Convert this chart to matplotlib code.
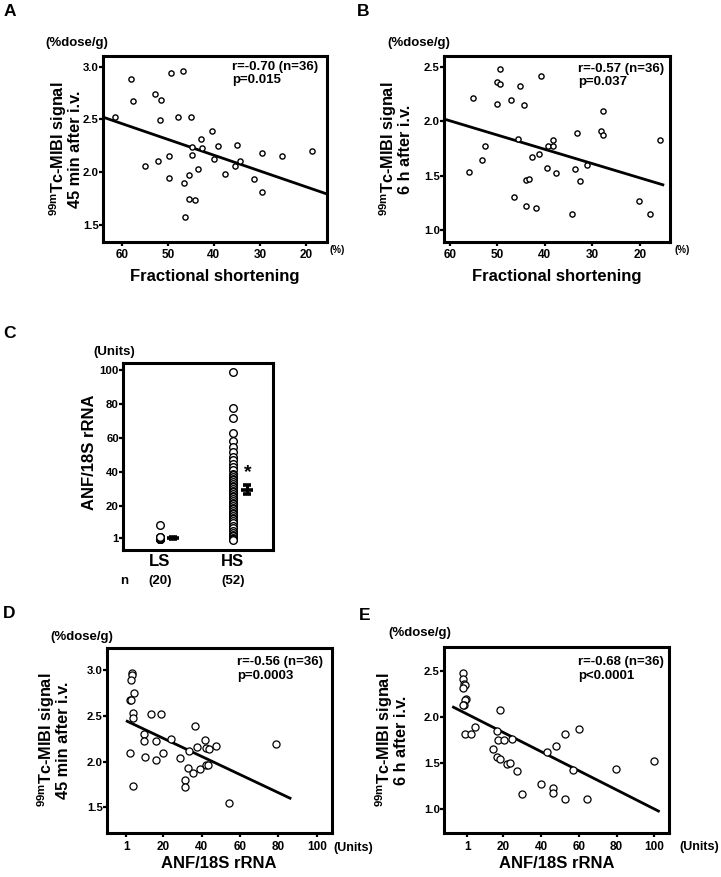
import numpy as np
import matplotlib
matplotlib.use("Agg")
import matplotlib.pyplot as plt

plt.rcParams['font.family'] = ['Liberation Sans', 'DejaVu Sans']
plt.rcParams['font.weight'] = 'bold'
plt.rcParams['mathtext.fontset'] = 'custom'
plt.rcParams['mathtext.rm'] = 'Liberation Sans:bold'
plt.rcParams['mathtext.it'] = 'Liberation Sans:bold'
plt.rcParams['mathtext.bf'] = 'Liberation Sans:bold'

# --- A: fractional shortening vs MIBI 45 min
fs_a = [61.4, 58.1, 57.6, 52.9, 51.5, 51.6, 49.4, 46.8, 47.9, 44.9, 54.9, 52.2,
        49.7, 49.7, 46.5, 45.3, 44.8, 44.8, 42.9, 42.6, 43.5, 45.4, 44.0, 46.2,
        40.5, 39.9, 39.1, 37.5, 35.0, 35.5, 34.4, 31.2, 29.6, 29.6, 25.2, 18.7]
mibi45_a = [2.52, 2.88, 2.67, 2.74, 2.68, 2.49, 2.94, 2.96, 2.52, 2.52, 2.06, 2.11,
            2.15, 1.95, 1.90, 1.97, 2.24, 2.16, 2.31, 2.23, 2.03, 1.75, 1.74, 1.58,
            2.39, 2.13, 2.25, 1.98, 2.26, 2.06, 2.11, 1.94, 2.18, 1.81, 2.15, 2.20]
fit_a = (1.564, 0.01494, 64.0, 15.4)   # intercept, slope, x from, x to

# --- B: fractional shortening vs MIBI 6 h
fs_b = [55.9, 55.2, 53.3, 52.6, 50.1, 49.5, 49.5, 50.0, 47.2, 45.2, 44.4, 46.4,
        45.7, 43.9, 43.4, 42.6, 41.3, 43.9, 41.8, 40.8, 39.6, 39.3, 38.3, 38.3,
        37.7, 34.2, 33.6, 33.2, 32.6, 31.1, 28.3, 27.7, 27.7, 20.3, 18.0, 15.8]
mibi6_b = [1.53, 2.21, 1.64, 1.77, 2.36, 2.34, 2.48, 2.16, 2.20, 2.32, 2.15, 1.30,
           1.84, 1.46, 1.47, 1.67, 1.70, 1.22, 1.20, 2.42, 1.57, 1.77, 1.83, 1.77,
           1.52, 1.15, 1.56, 1.89, 1.45, 1.60, 1.91, 1.87, 2.09, 1.27, 1.15, 1.83]
fit_b = (1.216, 0.01315, 60.6, 15.2)

# --- C: ANF/18S rRNA, LS vs HS
grupos = ['LS', 'HS']
n_grupos = ['(20)', '(52)']
anf_ls = [0.3, 0.4, 0.5, 0.6, 0.7, 0.8, 0.8, 0.9, 0.9, 1.0,
          1.0, 1.0, 1.1, 1.1, 1.2, 1.2, 1.3, 1.4, 1.6, 8.7]
anf_hs = [99, 78, 72, 63, 58, 55, 52, 49, 47, 45, 43, 41, 39, 38, 37, 36, 35, 34,
          33, 32, 31, 30, 29, 28, 27, 26, 25, 24, 23, 22, 21, 20, 19, 18, 17, 16,
          15, 14, 13, 12, 11, 10, 8, 7, 5, 4, 3, 2, 1, 0.5, 0.3, 0.1]
media_c = [1.0, 29.5]
sem_c = [0.4, 2.7]

# --- D: ANF vs MIBI 45 min
anf_d = [4.0, 4.0, 3.5, 4.8, 3.1, 3.4, 4.3, 4.3, 2.9, 4.3, 10.0, 10.0, 10.4, 13.8,
         19.0, 16.4, 16.4, 19.9, 24.0, 28.9, 36.4, 33.5, 32.8, 31.6, 31.6, 35.4,
         39.2, 37.8, 41.8, 42.5, 44.0, 47.7, 42.5, 43.5, 54.2, 78.8]
mibi45_d = [2.97, 2.95, 2.89, 2.75, 2.67, 2.67, 2.53, 2.48, 2.09, 1.73, 2.30, 2.23,
            2.05, 2.52, 2.52, 2.23, 2.02, 2.09, 2.25, 2.04, 2.39, 2.11, 1.93, 1.80,
            1.72, 1.88, 1.92, 2.16, 2.24, 2.15, 2.14, 2.17, 1.96, 1.96, 1.55, 2.19]
fit_d = (2.454, -0.00993, 1.4, 86.0)

# --- E: ANF vs MIBI 6 h
anf_e = [-1.2, -1.2, -0.6, -0.3, -1.2, 0.4, -0.1, -0.6, -1.2, -0.1, 2.7, 4.9,
         18.4, 16.5, 17.0, 20.4, 24.4, 14.7, 16.5, 18.4, 22.2, 23.6, 27.1, 29.7,
         39.8, 46.1, 46.1, 52.5, 43.0, 47.7, 52.5, 60.1, 56.7, 64.3, 79.6, 99.9]
mibi6_e = [2.48, 2.41, 2.36, 2.35, 2.31, 2.20, 2.18, 2.13, 2.13, 1.81, 1.81, 1.89,
           2.08, 1.85, 1.75, 1.75, 1.76, 1.65, 1.56, 1.54, 1.49, 1.50, 1.41, 1.16,
           1.27, 1.23, 1.17, 1.11, 1.62, 1.68, 1.81, 1.87, 1.42, 1.11, 1.44, 1.52]
fit_e = (2.040, -0.01039, -6.4, 102.2)

W, H = 721, 877
fig = plt.figure(figsize=(W / 100, H / 100), dpi=100)


def ejes(left, top, right, bottom):
    ax = fig.add_axes([left / W, 1 - bottom / H, (right - left) / W, (bottom - top) / H])
    for s in ax.spines.values():
        s.set_linewidth(2.2)
    ax.tick_params(direction='out', length=2.6, width=1.6, labelsize=8.5)
    ax.tick_params(axis='x', pad=2.8)
    ax.tick_params(axis='y', pad=0.3, labelsize=8.2)
    return ax


def texto(x, y, s, **kw):
    fig.text(x / W, 1 - y / H, s, **kw)


def dispersion(ax, x, y, fit, size, lw, nota):
    ax.scatter(x, y, s=size, facecolors='white', edgecolors='black', linewidths=lw, zorder=3)
    a, b, x0, x1 = fit
    xs = np.array([x0, x1])
    ax.plot(xs, a + b * xs, color='black', lw=2, zorder=2)
    ax.text(nota[0], nota[1], nota[2], transform=ax.transAxes, ha='left', va='top',
            fontsize=9.5, linespacing=1.15)


def ylabel2(x1, x2, y, linea1, linea2):
    texto(x1, y, linea1, rotation=90, ha='center', va='center', fontsize=11.7)
    texto(x2, y, linea2, rotation=90, ha='center', va='center', fontsize=11.7)


tc = '$^{99m}$Tc-MIBI signal'

# A
ax = ejes(103, 56, 327, 242)
dispersion(ax, fs_a, mibi45_a, fit_a, 14, 1.0, (0.575, 0.975, 'r=-0.70 (n=36)\np=0.015'))
ax.set_xlim(64.1, 15.4)
ax.set_ylim(1.34, 3.10)
ax.set_xticks([60, 50, 40, 30, 20])
ax.set_yticks([1.5, 2.0, 2.5, 3.0])
ax.set_yticklabels(['1.5', '2.0', '2.5', '3.0'])

# B
ax = ejes(444, 56, 670, 242)
dispersion(ax, fs_b, mibi6_b, fit_b, 14, 1.0, (0.594, 0.965, 'r=-0.57 (n=36)\np=0.037'))
ax.set_xlim(61.2, 13.7)
ax.set_ylim(0.89, 2.60)
ax.set_xticks([60, 50, 40, 30, 20])
ax.set_yticks([1.0, 1.5, 2.0, 2.5])
ax.set_yticklabels(['1.0', '1.5', '2.0', '2.5'])

# C
ax = ejes(123, 363, 273, 550)
ax.scatter(np.zeros(len(anf_ls)), anf_ls, s=30, facecolors='white', edgecolors='black',
           linewidths=1.0, zorder=3)
ax.scatter(np.ones(len(anf_hs)), anf_hs, s=30, facecolors='white', edgecolors='black',
           linewidths=1.0, zorder=3)
ax.errorbar([0.18, 1.2], media_c, yerr=sem_c, fmt='_', color='black', markersize=8,
            mew=2.6, capsize=2.8, capthick=2.2, elinewidth=2.2, zorder=4)
ax.text(1.2, media_c[1] + 10, '*', ha='center', va='center', fontsize=14)
ax.set_xlim(-0.5, 1.55)
ax.set_ylim(-6, 104.3)
ax.set_yticks([1, 20, 40, 60, 80, 100])
ax.set_xticks([0, 1])
ax.set_xticklabels(grupos, fontsize=12)
ax.tick_params(axis='x', length=0, pad=3)
texto(124, 581, 'n', ha='center', va='center', fontsize=9.5)
texto(160, 581, n_grupos[0], ha='center', va='center', fontsize=9.5)
texto(233, 581, n_grupos[1], ha='center', va='center', fontsize=9.5)

# D
ax = ejes(107, 648, 332, 833)
dispersion(ax, anf_d, mibi45_d, fit_d, 26, 0.9, (0.578, 0.955, 'r=-0.56 (n=36)\np=0.0003'))
ax.set_xlim(-9.1, 107.8)
ax.set_ylim(1.22, 3.24)
ax.set_xticks([1, 20, 40, 60, 80, 100])
ax.set_yticks([1.5, 2.0, 2.5, 3.0])
ax.set_yticklabels(['1.5', '2.0', '2.5', '3.0'])

# E
ax = ejes(444, 647, 669, 833)
dispersion(ax, anf_e, mibi6_e, fit_e, 26, 0.9, (0.596, 0.95, 'r=-0.68 (n=36)\np<0.0001'))
ax.set_xlim(-11.4, 107.8)
ax.set_ylim(0.74, 2.76)
ax.set_xticks([1, 20, 40, 60, 80, 100])
ax.set_yticks([1.0, 1.5, 2.0, 2.5])
ax.set_yticklabels(['1.0', '1.5', '2.0', '2.5'])

# etiquetas de ejes y textos
ylabel2(58, 76, 149, tc, '45 min after i.v.')
ylabel2(388, 406, 149, tc, '6 h after i.v.')
texto(90, 452, 'ANF/18S rRNA', rotation=90, ha='center', va='center', fontsize=12)
ylabel2(46, 64, 740, tc, '45 min after i.v.')
ylabel2(384, 402, 740, tc, '6 h after i.v.')

texto(215, 277, 'Fractional shortening', ha='center', va='center', fontsize=12)
texto(557, 277, 'Fractional shortening', ha='center', va='center', fontsize=12)
texto(219, 864, 'ANF/18S rRNA', ha='center', va='center', fontsize=12)
texto(557, 864, 'ANF/18S rRNA', ha='center', va='center', fontsize=12)

texto(77, 43, '(%dose/g)', ha='center', va='center', fontsize=9.5)
texto(419, 43, '(%dose/g)', ha='center', va='center', fontsize=9.5)
texto(114, 352, '(Units)', ha='center', va='center', fontsize=9.5)
texto(82, 637, '(%dose/g)', ha='center', va='center', fontsize=9.5)
texto(420, 633, '(%dose/g)', ha='center', va='center', fontsize=9.5)

texto(337, 250, '(%)', ha='center', va='center', fontsize=7)
texto(682, 250, '(%)', ha='center', va='center', fontsize=7)
texto(333, 848, '(Units)', ha='left', va='center', fontsize=9)
texto(679, 847, '(Units)', ha='left', va='center', fontsize=9)

for letra, x, y in [('A', 10, 11), ('B', 363, 11), ('C', 9, 333), ('D', 9, 614), ('E', 365, 616)]:
    texto(x, y, letra, ha='center', va='center', fontsize=12.5)

fig.savefig('out.png', dpi=100)
